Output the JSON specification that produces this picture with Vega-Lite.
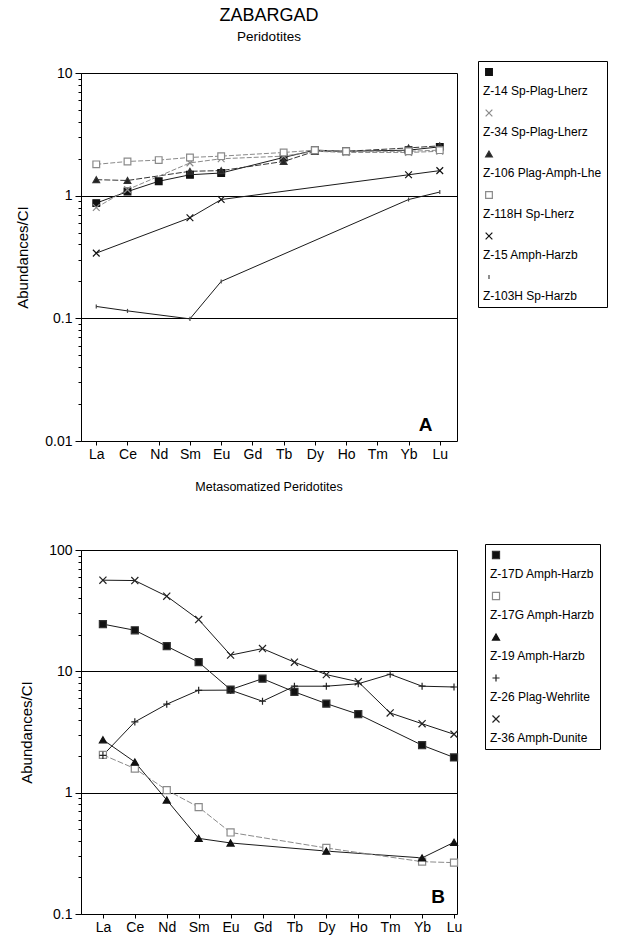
{
  "$schema": "https://vega.github.io/schema/vega-lite/v6.json",
  "padding": {"left": 15, "top": 6, "right": 2, "bottom": 4},
  "config": {
    "font": "Liberation Sans",
    "view": {"stroke": "black", "strokeWidth": 1},
    "axis": {"domainColor": "black", "tickColor": "black", "labelColor": "black", "titleColor": "black", "labelFont": "Liberation Sans", "titleFont": "Liberation Sans", "titleFontWeight": "normal", "labelFontSize": 14, "titleFontSize": 15},
    "legend": {"labelColor": "black", "labelFontSize": 12, "labelFont": "Liberation Sans"}
  },
  "datasets": {
    "a": [
      {"s": "Z-14 Sp-Plag-Lherz", "el": "La", "v": 0.87},
      {"s": "Z-14 Sp-Plag-Lherz", "el": "Ce", "v": 1.08},
      {"s": "Z-14 Sp-Plag-Lherz", "el": "Nd", "v": 1.31},
      {"s": "Z-14 Sp-Plag-Lherz", "el": "Sm", "v": 1.48},
      {"s": "Z-14 Sp-Plag-Lherz", "el": "Eu", "v": 1.53},
      {"s": "Z-14 Sp-Plag-Lherz", "el": "Tb", "v": 2.05},
      {"s": "Z-14 Sp-Plag-Lherz", "el": "Dy", "v": 2.35},
      {"s": "Z-14 Sp-Plag-Lherz", "el": "Ho", "v": 2.3},
      {"s": "Z-14 Sp-Plag-Lherz", "el": "Yb", "v": 2.35},
      {"s": "Z-14 Sp-Plag-Lherz", "el": "Lu", "v": 2.5},
      {"s": "Z-34 Sp-Plag-Lherz", "el": "La", "v": 0.8},
      {"s": "Z-34 Sp-Plag-Lherz", "el": "Ce", "v": 1.12},
      {"s": "Z-34 Sp-Plag-Lherz", "el": "Sm", "v": 1.85},
      {"s": "Z-34 Sp-Plag-Lherz", "el": "Eu", "v": 2.0},
      {"s": "Z-34 Sp-Plag-Lherz", "el": "Tb", "v": 2.1},
      {"s": "Z-34 Sp-Plag-Lherz", "el": "Dy", "v": 2.3},
      {"s": "Z-34 Sp-Plag-Lherz", "el": "Ho", "v": 2.25},
      {"s": "Z-34 Sp-Plag-Lherz", "el": "Yb", "v": 2.25},
      {"s": "Z-34 Sp-Plag-Lherz", "el": "Lu", "v": 2.3},
      {"s": "Z-106 Plag-Amph-Lhe", "el": "La", "v": 1.35},
      {"s": "Z-106 Plag-Amph-Lhe", "el": "Ce", "v": 1.33},
      {"s": "Z-106 Plag-Amph-Lhe", "el": "Sm", "v": 1.58},
      {"s": "Z-106 Plag-Amph-Lhe", "el": "Eu", "v": 1.6},
      {"s": "Z-106 Plag-Amph-Lhe", "el": "Tb", "v": 1.9},
      {"s": "Z-106 Plag-Amph-Lhe", "el": "Dy", "v": 2.3},
      {"s": "Z-106 Plag-Amph-Lhe", "el": "Ho", "v": 2.3},
      {"s": "Z-106 Plag-Amph-Lhe", "el": "Yb", "v": 2.45},
      {"s": "Z-106 Plag-Amph-Lhe", "el": "Lu", "v": 2.55},
      {"s": "Z-118H Sp-Lherz", "el": "La", "v": 1.8},
      {"s": "Z-118H Sp-Lherz", "el": "Ce", "v": 1.9},
      {"s": "Z-118H Sp-Lherz", "el": "Nd", "v": 1.95},
      {"s": "Z-118H Sp-Lherz", "el": "Sm", "v": 2.05},
      {"s": "Z-118H Sp-Lherz", "el": "Eu", "v": 2.1},
      {"s": "Z-118H Sp-Lherz", "el": "Tb", "v": 2.25},
      {"s": "Z-118H Sp-Lherz", "el": "Dy", "v": 2.35},
      {"s": "Z-118H Sp-Lherz", "el": "Ho", "v": 2.3},
      {"s": "Z-118H Sp-Lherz", "el": "Yb", "v": 2.3},
      {"s": "Z-118H Sp-Lherz", "el": "Lu", "v": 2.35},
      {"s": "Z-15 Amph-Harzb", "el": "La", "v": 0.34},
      {"s": "Z-15 Amph-Harzb", "el": "Sm", "v": 0.66},
      {"s": "Z-15 Amph-Harzb", "el": "Eu", "v": 0.93},
      {"s": "Z-15 Amph-Harzb", "el": "Yb", "v": 1.48},
      {"s": "Z-15 Amph-Harzb", "el": "Lu", "v": 1.6},
      {"s": "Z-103H Sp-Harzb", "el": "La", "v": 0.125},
      {"s": "Z-103H Sp-Harzb", "el": "Ce", "v": 0.115},
      {"s": "Z-103H Sp-Harzb", "el": "Sm", "v": 0.099},
      {"s": "Z-103H Sp-Harzb", "el": "Eu", "v": 0.2},
      {"s": "Z-103H Sp-Harzb", "el": "Yb", "v": 0.93},
      {"s": "Z-103H Sp-Harzb", "el": "Lu", "v": 1.07}
    ],
    "b": [
      {"s": "Z-17D Amph-Harzb", "el": "La", "v": 24.5},
      {"s": "Z-17D Amph-Harzb", "el": "Ce", "v": 21.8},
      {"s": "Z-17D Amph-Harzb", "el": "Nd", "v": 16.1},
      {"s": "Z-17D Amph-Harzb", "el": "Sm", "v": 11.9},
      {"s": "Z-17D Amph-Harzb", "el": "Eu", "v": 7.07},
      {"s": "Z-17D Amph-Harzb", "el": "Gd", "v": 8.7},
      {"s": "Z-17D Amph-Harzb", "el": "Tb", "v": 6.77},
      {"s": "Z-17D Amph-Harzb", "el": "Dy", "v": 5.42},
      {"s": "Z-17D Amph-Harzb", "el": "Ho", "v": 4.43},
      {"s": "Z-17D Amph-Harzb", "el": "Yb", "v": 2.46},
      {"s": "Z-17D Amph-Harzb", "el": "Lu", "v": 1.95},
      {"s": "Z-17G Amph-Harzb", "el": "La", "v": 2.05},
      {"s": "Z-17G Amph-Harzb", "el": "Ce", "v": 1.58},
      {"s": "Z-17G Amph-Harzb", "el": "Nd", "v": 1.05},
      {"s": "Z-17G Amph-Harzb", "el": "Sm", "v": 0.76},
      {"s": "Z-17G Amph-Harzb", "el": "Eu", "v": 0.47},
      {"s": "Z-17G Amph-Harzb", "el": "Dy", "v": 0.35},
      {"s": "Z-17G Amph-Harzb", "el": "Yb", "v": 0.27},
      {"s": "Z-17G Amph-Harzb", "el": "Lu", "v": 0.265},
      {"s": "Z-19 Amph-Harzb", "el": "La", "v": 2.73},
      {"s": "Z-19 Amph-Harzb", "el": "Ce", "v": 1.79},
      {"s": "Z-19 Amph-Harzb", "el": "Nd", "v": 0.87},
      {"s": "Z-19 Amph-Harzb", "el": "Sm", "v": 0.42},
      {"s": "Z-19 Amph-Harzb", "el": "Eu", "v": 0.385},
      {"s": "Z-19 Amph-Harzb", "el": "Dy", "v": 0.33},
      {"s": "Z-19 Amph-Harzb", "el": "Yb", "v": 0.29},
      {"s": "Z-19 Amph-Harzb", "el": "Lu", "v": 0.39},
      {"s": "Z-26 Plag-Wehrlite", "el": "La", "v": 2.03},
      {"s": "Z-26 Plag-Wehrlite", "el": "Ce", "v": 3.83},
      {"s": "Z-26 Plag-Wehrlite", "el": "Nd", "v": 5.36},
      {"s": "Z-26 Plag-Wehrlite", "el": "Sm", "v": 6.98},
      {"s": "Z-26 Plag-Wehrlite", "el": "Eu", "v": 7.0},
      {"s": "Z-26 Plag-Wehrlite", "el": "Gd", "v": 5.67},
      {"s": "Z-26 Plag-Wehrlite", "el": "Tb", "v": 7.54},
      {"s": "Z-26 Plag-Wehrlite", "el": "Dy", "v": 7.54},
      {"s": "Z-26 Plag-Wehrlite", "el": "Ho", "v": 7.9},
      {"s": "Z-26 Plag-Wehrlite", "el": "Tm", "v": 9.46},
      {"s": "Z-26 Plag-Wehrlite", "el": "Yb", "v": 7.54},
      {"s": "Z-26 Plag-Wehrlite", "el": "Lu", "v": 7.43},
      {"s": "Z-36 Amph-Dunite", "el": "La", "v": 56.4},
      {"s": "Z-36 Amph-Dunite", "el": "Ce", "v": 56},
      {"s": "Z-36 Amph-Dunite", "el": "Nd", "v": 41.6},
      {"s": "Z-36 Amph-Dunite", "el": "Sm", "v": 26.7},
      {"s": "Z-36 Amph-Dunite", "el": "Eu", "v": 13.6},
      {"s": "Z-36 Amph-Dunite", "el": "Gd", "v": 15.4},
      {"s": "Z-36 Amph-Dunite", "el": "Tb", "v": 11.9},
      {"s": "Z-36 Amph-Dunite", "el": "Dy", "v": 9.4},
      {"s": "Z-36 Amph-Dunite", "el": "Ho", "v": 8.2},
      {"s": "Z-36 Amph-Dunite", "el": "Tm", "v": 4.54},
      {"s": "Z-36 Amph-Dunite", "el": "Yb", "v": 3.7},
      {"s": "Z-36 Amph-Dunite", "el": "Lu", "v": 3.03}
    ]
  },
  "spacing": 18,
  "resolve": {"scale": {"shape": "independent", "fill": "independent", "stroke": "independent", "x": "independent", "y": "independent"}, "legend": {"shape": "independent", "fill": "independent", "stroke": "independent"}},
  "vconcat": [
    {
      "width": 376,
      "height": 368,
      "title": {"text": "ZABARGAD", "subtitle": "Peridotites", "fontSize": 18, "fontWeight": "normal", "subtitleFontSize": 13.5, "subtitleColor": "black", "color": "black", "anchor": "middle", "offset": 17, "subtitlePadding": 5},
      "data": {"name": "a"},
      "encoding": {
        "x": {"field": "el", "type": "ordinal", "title": null,
          "scale": {"domain": ["La", "Ce", "Nd", "Sm", "Eu", "Gd", "Tb", "Dy", "Ho", "Tm", "Yb", "Lu"], "padding": 0.52, "align": 0.47},
          "axis": {"labelAngle": 0, "tickSize": 4, "labelPadding": 2, "domain": false}},
        "y": {"field": "v", "type": "quantitative", "title": "Abundances/CI",
          "scale": {"type": "log", "domain": [0.01, 10]},
          "axis": {"values": [0.01, 0.02, 0.03, 0.04, 0.05, 0.06, 0.07, 0.08, 0.09, 0.1, 0.2, 0.3, 0.4, 0.5, 0.6, 0.7, 0.8, 0.9, 1, 2, 3, 4, 5, 6, 7, 8, 9, 10],
            "format": "~g", "titlePadding": 14, "labelPadding": 3,
            "labelExpr": "indexof([0.01, 0.1, 1, 10], datum.value) >= 0 ? datum.label : ''",
            "tickSize": {"condition": {"test": "indexof([0.01, 0.1, 1, 10], datum.value) >= 0", "value": 6}, "value": 3},
            "grid": true, "gridColor": "black", "gridWidth": 1,
            "gridOpacity": {"condition": {"test": "indexof([0.1, 1], datum.value) >= 0", "value": 1}, "value": 0}}}
      },
      "layer": [
        {
          "transform": [{"filter": "indexof(['Z-14 Sp-Plag-Lherz', 'Z-15 Amph-Harzb', 'Z-103H Sp-Harzb'], datum.s) >= 0"}],
          "mark": {"type": "line", "strokeWidth": 1, "color": "#1a1a1a"},
          "encoding": {"detail": {"field": "s"}, "order": {"value": null}}
        },
        {
          "transform": [{"filter": "datum.s == 'Z-106 Plag-Amph-Lhe'"}],
          "mark": {"type": "line", "strokeWidth": 1, "color": "#333333", "strokeDash": [6, 2]},
          "encoding": {"detail": {"field": "s"}, "order": {"value": null}}
        },
        {
          "transform": [{"filter": "datum.s == 'Z-34 Sp-Plag-Lherz' || datum.s == 'Z-118H Sp-Lherz'"}],
          "mark": {"type": "line", "strokeWidth": 1, "color": "#8a8a8a", "strokeDash": [5, 2]},
          "encoding": {"detail": {"field": "s"}, "order": {"value": null}}
        },
        {
          "mark": {"type": "point", "size": 45, "opacity": 1, "strokeWidth": 1.2},
          "encoding": {
            "shape": {"field": "s", "type": "nominal",
              "scale": {"domain": ["Z-14 Sp-Plag-Lherz", "Z-34 Sp-Plag-Lherz", "Z-106 Plag-Amph-Lhe", "Z-118H Sp-Lherz", "Z-15 Amph-Harzb", "Z-103H Sp-Harzb"], "range": ["square", "M-1,-1L1,1M-1,1L1,-1", "triangle-up", "square", "M-1,-1L1,1M-1,1L1,-1", "M0,-0.6L0,0.6"]},
              "legend": {"title": null, "orient": "none", "legendX": 397, "legendY": -12, "strokeColor": "black", "padding": 5, "labelExpr": "['', datum.label]", "labelBaseline": "top", "labelOffset": -12, "rowPadding": 10, "symbolStrokeWidth": 1.2, "symbolSize": 45}},
            "fill": {"field": "s", "type": "nominal",
              "scale": {"domain": ["Z-14 Sp-Plag-Lherz", "Z-34 Sp-Plag-Lherz", "Z-106 Plag-Amph-Lhe", "Z-118H Sp-Lherz", "Z-15 Amph-Harzb", "Z-103H Sp-Harzb"], "range": ["#111111", "white", "#222222", "white", "white", "white"]}},
            "stroke": {"field": "s", "type": "nominal",
              "scale": {"domain": ["Z-14 Sp-Plag-Lherz", "Z-34 Sp-Plag-Lherz", "Z-106 Plag-Amph-Lhe", "Z-118H Sp-Lherz", "Z-15 Amph-Harzb", "Z-103H Sp-Harzb"], "range": ["#111111", "#8a8a8a", "#333333", "#8a8a8a", "#111111", "#444444"]}}
          }
        },
        {
          "transform": [{"filter": "datum.s == 'Z-15 Amph-Harzb' && datum.el == 'La'"}],
          "mark": {"type": "text", "text": "A", "fontSize": 19, "fontWeight": "bold", "dx": 17, "color": "black"},
          "encoding": {"x": {"datum": "Yb"}, "y": {"datum": 0.0136}}
        }
      ]
    },
    {
      "width": 376,
      "height": 364,
      "title": {"text": "Metasomatized Peridotites", "fontSize": 12.5, "fontWeight": "normal", "color": "black", "anchor": "middle", "offset": 50},
      "data": {"name": "b"},
      "encoding": {
        "x": {"field": "el", "type": "ordinal", "title": null,
          "scale": {"domain": ["La", "Ce", "Nd", "Sm", "Eu", "Gd", "Tb", "Dy", "Ho", "Tm", "Yb", "Lu"], "padding": 0.39, "align": 0.88},
          "axis": {"labelAngle": 0, "tickSize": 4, "labelPadding": 2, "domain": false}},
        "y": {"field": "v", "type": "quantitative", "title": "Abundances/CI",
          "scale": {"type": "log", "domain": [0.1, 100]},
          "axis": {"values": [0.1, 0.2, 0.3, 0.4, 0.5, 0.6, 0.7, 0.8, 0.9, 1, 2, 3, 4, 5, 6, 7, 8, 9, 10, 20, 30, 40, 50, 60, 70, 80, 90, 100],
            "format": "~g", "titlePadding": 14, "labelPadding": 3,
            "labelExpr": "indexof([0.1, 1, 10, 100], datum.value) >= 0 ? datum.label : ''",
            "tickSize": {"condition": {"test": "indexof([0.1, 1, 10, 100], datum.value) >= 0", "value": 6}, "value": 3},
            "grid": true, "gridColor": "black", "gridWidth": 1,
            "gridOpacity": {"condition": {"test": "indexof([1, 10], datum.value) >= 0", "value": 1}, "value": 0}}}
      },
      "layer": [
        {
          "transform": [{"filter": "datum.s != 'Z-17G Amph-Harzb'"}],
          "mark": {"type": "line", "strokeWidth": 1, "color": "#1a1a1a"},
          "encoding": {"detail": {"field": "s"}, "order": {"value": null}}
        },
        {
          "transform": [{"filter": "datum.s == 'Z-17G Amph-Harzb'"}],
          "mark": {"type": "line", "strokeWidth": 1, "color": "#8a8a8a", "strokeDash": [6, 2]},
          "encoding": {"detail": {"field": "s"}, "order": {"value": null}}
        },
        {
          "mark": {"type": "point", "size": 50, "opacity": 1, "strokeWidth": 1.2},
          "encoding": {
            "shape": {"field": "s", "type": "nominal",
              "scale": {"domain": ["Z-17D Amph-Harzb", "Z-17G Amph-Harzb", "Z-19 Amph-Harzb", "Z-26 Plag-Wehrlite", "Z-36 Amph-Dunite"], "range": ["square", "square", "triangle-up", "M-1,0L1,0M0,-1L0,1", "M-1,-1L1,1M-1,1L1,-1"]},
              "legend": {"title": null, "orient": "none", "legendX": 404, "legendY": -6, "strokeColor": "black", "padding": 5, "labelExpr": "['', datum.label]", "labelBaseline": "top", "labelOffset": -12, "rowPadding": 10, "symbolStrokeWidth": 1.2, "symbolSize": 50}},
            "fill": {"field": "s", "type": "nominal",
              "scale": {"domain": ["Z-17D Amph-Harzb", "Z-17G Amph-Harzb", "Z-19 Amph-Harzb", "Z-26 Plag-Wehrlite", "Z-36 Amph-Dunite"], "range": ["#111111", "white", "#111111", "white", "white"]}},
            "stroke": {"field": "s", "type": "nominal",
              "scale": {"domain": ["Z-17D Amph-Harzb", "Z-17G Amph-Harzb", "Z-19 Amph-Harzb", "Z-26 Plag-Wehrlite", "Z-36 Amph-Dunite"], "range": ["#333333", "#8a8a8a", "#111111", "#222222", "#222222"]}}
          }
        },
        {
          "transform": [{"filter": "datum.s == 'Z-36 Amph-Dunite' && datum.el == 'La'"}],
          "mark": {"type": "text", "text": "B", "fontSize": 19, "fontWeight": "bold", "dx": 16, "color": "black"},
          "encoding": {"x": {"datum": "Yb"}, "y": {"datum": 0.138}}
        }
      ]
    }
  ]
}
